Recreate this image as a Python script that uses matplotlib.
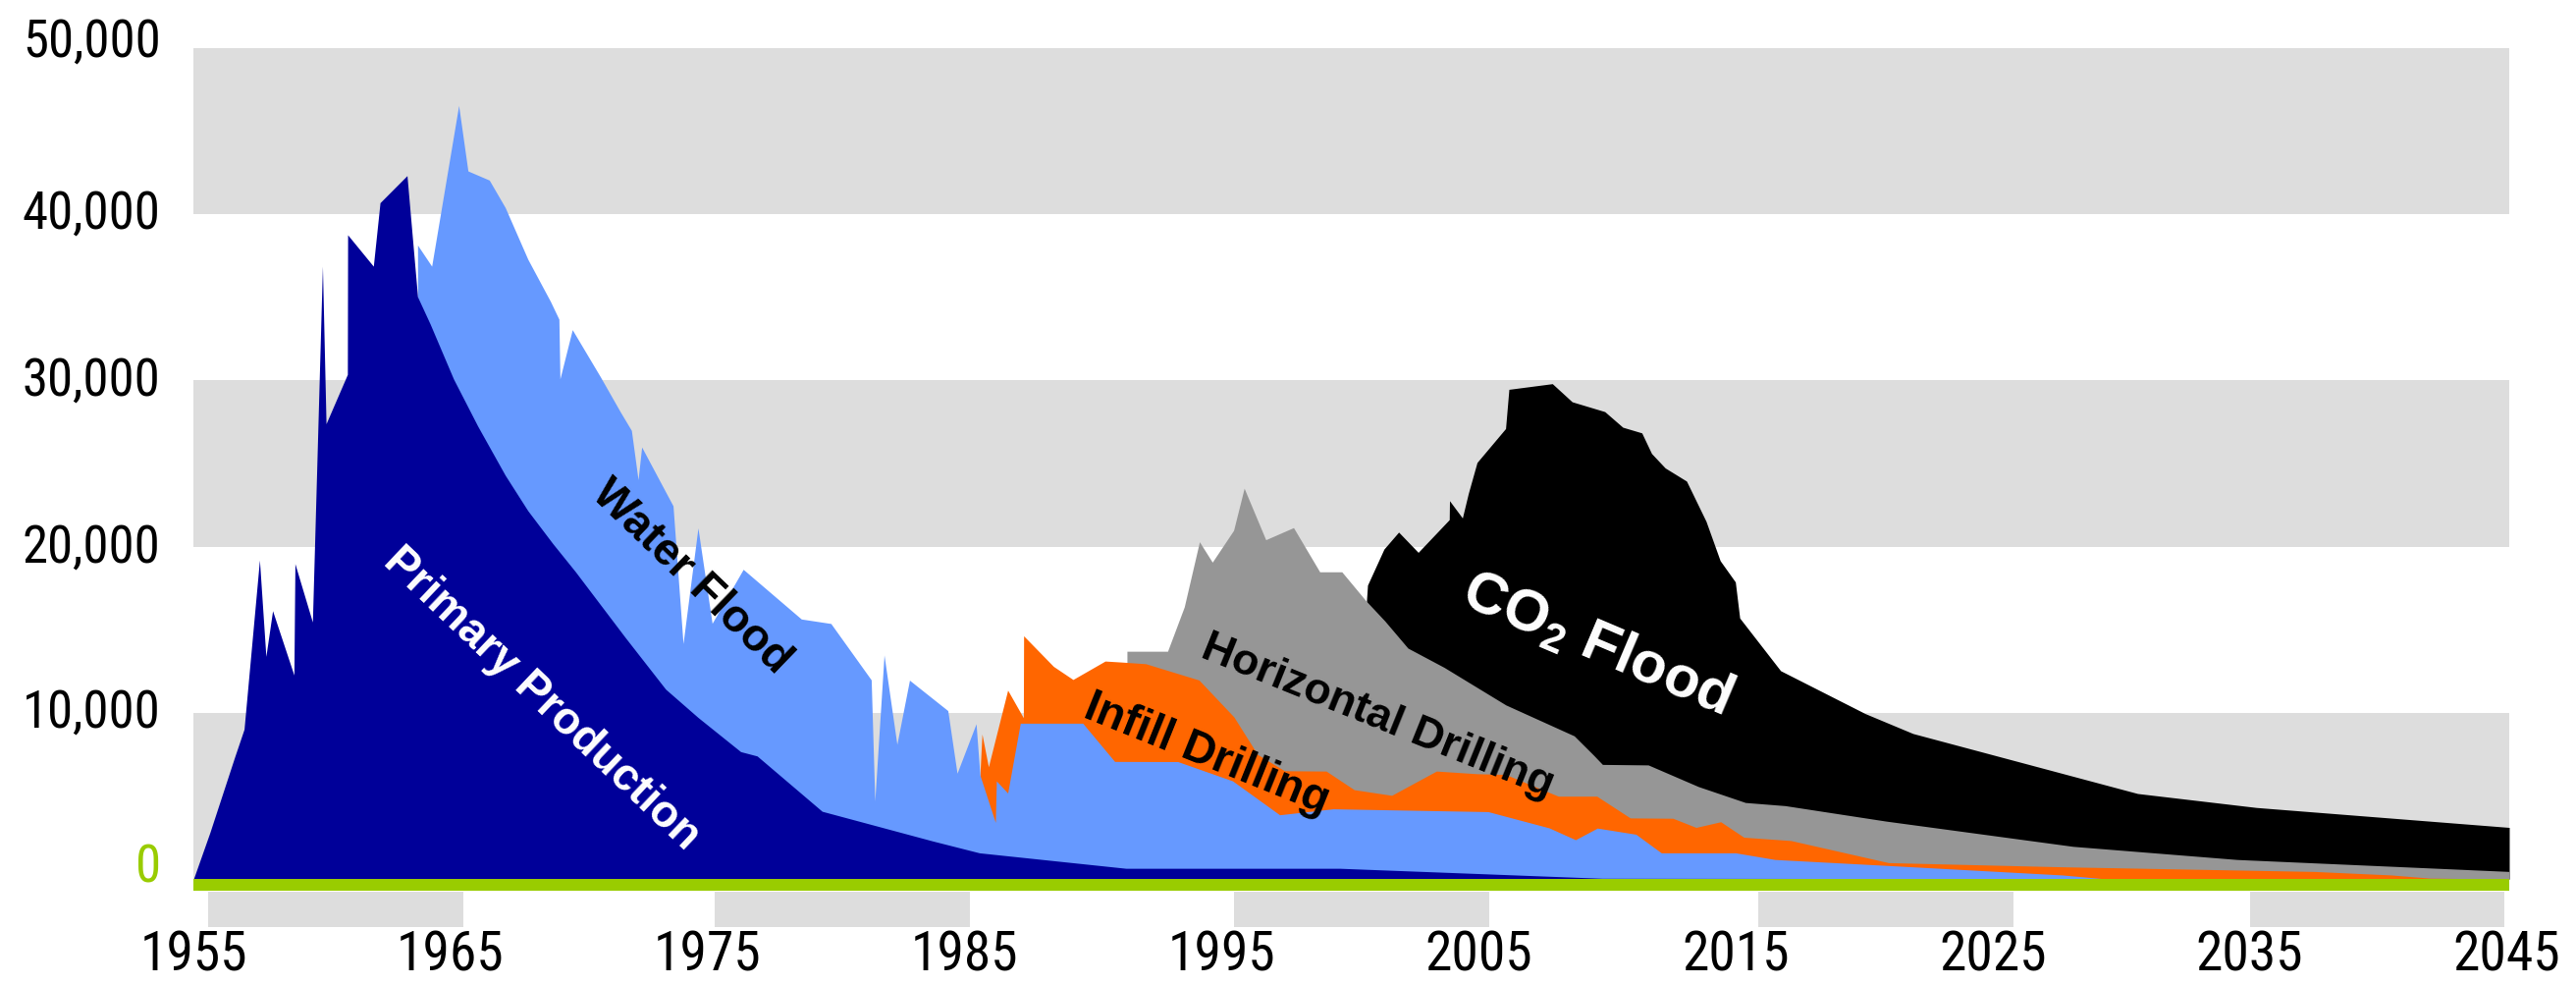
import matplotlib
matplotlib.use("Agg")
import matplotlib.pyplot as plt
from matplotlib import font_manager
from matplotlib.transforms import ScaledTranslation, blended_transform_factory
from matplotlib.patches import Rectangle

# ---------------- data (stacked totals) ----------------
primary_years = [1955.0, 1955.64, 1956.6, 1956.97, 1957.57, 1957.82, 1958.08, 1958.91, 1958.95,
                 1959.63, 1960.02, 1960.16, 1960.99, 1961.0, 1962.0, 1962.26, 1963.31, 1963.72,
                 1964.21, 1965.12, 1966.06, 1967.13, 1968.01, 1968.98, 1969.86, 1971.8, 1973.37,
                 1974.63, 1976.29, 1976.93, 1979.46, 1983.77, 1985.58, 1991.28, 1999.6, 2009.8, 2045.1]
primary_top = [0, 2800, 7330, 9020, 19200, 13400, 16150, 12280, 18980,
               15470, 36880, 27400, 30370, 38770, 36880, 40700, 42330, 35040,
               33400, 30090, 27260, 24300, 22170, 20190, 18500, 14540, 11430,
               9730, 7670, 7410, 4080, 2290, 1580, 650, 650, 50, 0]

waterflood_years = [1963.72, 1964.27, 1965.32, 1965.68, 1966.51, 1967.13, 1968.01, 1968.89, 1969.22,
                    1969.26, 1969.74, 1970.83, 1971.61, 1972.04, 1972.3, 1972.44, 1973.66, 1974.05,
                    1974.63, 1975.18, 1976.39, 1978.65, 1979.8, 1981.37, 1981.51, 1981.87, 1982.37,
                    1982.86, 1984.35, 1984.71, 1985.45, 1985.6, 1986.2, 1986.24, 1986.68, 1987.17,
                    1989.6, 1990.84, 1993.3, 1995.43, 1997.26, 1999.34, 2005.37, 2007.75, 2008.77,
                    2009.62, 2011.12, 2012.11, 2015.0, 2016.53, 2020.8, 2027.7, 2029.5, 2045.1]
waterflood_top = [38150, 36880, 46550, 42610, 42060, 40410, 37300, 34760, 33690,
                  30100, 33060, 30230, 28110, 27000, 24030, 26000, 22460, 14170,
                  21130, 15390, 18640, 15650, 15380, 11990, 4700, 13480, 8110,
                  11970, 10140, 6370, 9350, 6260, 3410, 5910, 5180, 9380,
                  9380, 7080, 7070, 5910, 3870, 4230, 4060, 3080, 2370,
                  3070, 2700, 1580, 1580, 1180, 830, 250, 0, 0]

infill_years = [1985.6, 1985.68, 1985.93, 1986.68, 1987.29, 1987.3, 1988.46, 1989.22, 1990.47,
                1991.1, 1992.05, 1994.12, 1995.48, 1996.4, 1997.45, 1999.07, 2000.16, 2001.62,
                2003.36, 2004.95, 2006.05, 2008.1, 2009.6, 2010.9, 2012.56, 2013.46, 2014.42,
                2015.32, 2017.15, 2020.95, 2027.7, 2037.5, 2040.5, 2042.0, 2045.1]
infill_top = [6260, 8730, 6760, 11370, 9710, 14640, 12800, 12010, 13120,
              13060, 12960, 11980, 9760, 7500, 6520, 6500, 5380, 5040,
              6500, 6340, 6300, 4990, 4990, 3680, 3660, 3110, 3450,
              2520, 2320, 990, 740, 460, 250, 60, 0]

horizontal_years = [1991.32, 1992.9, 1993.55, 1994.14, 1994.64, 1995.47, 1995.88, 1996.72, 1997.8,
                    1998.82, 1999.68, 2000.61, 2001.35, 2002.25, 2003.66, 2006.06, 2008.72, 2009.48,
                    2009.82, 2011.6, 2013.55, 2015.38, 2016.93, 2020.85, 2028.13, 2034.51, 2045.1]
horizontal_top = [13710, 13710, 16380, 20300, 19070, 20990, 23520, 20420, 21150,
                  18490, 18490, 16760, 15540, 13900, 12740, 10480, 8620, 7450,
                  6900, 6870, 5570, 4610, 4420, 3490, 1970, 1180, 460]

co2_years = [2000.64, 2000.68, 2001.32, 2001.89, 2002.65, 2003.86, 2003.87, 2004.37, 2004.6,
             2004.94, 2006.05, 2006.18, 2007.87, 2008.64, 2009.91, 2010.61, 2011.35, 2011.73,
             2012.26, 2013.09, 2013.85, 2014.4, 2014.99, 2015.16, 2016.75, 2020.04, 2021.9,
             2030.64, 2035.26, 2045.1]
co2_top = [16760, 17690, 19860, 20880, 19660, 21630, 22770, 21730, 23200,
           25070, 27110, 29470, 29810, 28720, 28130, 27190, 26850, 25610,
           24740, 23950, 21530, 19160, 17880, 15710, 12540, 9960, 8760,
           5150, 4310, 3110]

x_ticks = [1955, 1965, 1975, 1985, 1995, 2005, 2015, 2025, 2035, 2045]
x_tick_labels = ["1955", "1965", "1975", "1985", "1995", "2005", "2015", "2025", "2035", "2045"]
y_ticks = [0, 10000, 20000, 30000, 40000, 50000]
y_tick_labels = ["0", "10,000", "20,000", "30,000", "40,000", "50,000"]

area_labels = ["Primary Production", "Water Flood", "Infill Drilling", "Horizontal Drilling", "CO$_\\mathbf{2}$ Flood"]

# ---------------- fonts ----------------
names = {f.name for f in font_manager.fontManager.ttflist}
tick_font = "Liberation Sans"
condensed = False
for cand in ["Liberation Sans Narrow", "Arial Narrow", "Nimbus Sans Narrow", "Roboto Condensed"]:
    if cand in names:
        tick_font = cand
        condensed = True
        break
label_font = "Liberation Sans" if "Liberation Sans" in names else "DejaVu Sans"
plt.rcParams["mathtext.fontset"] = "custom"
plt.rcParams["mathtext.rm"] = label_font
plt.rcParams["mathtext.bf"] = label_font + ":bold"

x_tick_size = 40 if condensed else 37
y_tick_size = 38 if condensed else 34

# ---------------- colours ----------------
C_PRIMARY = "#000099"
C_WATER = "#6699ff"
C_INFILL = "#ff6600"
C_HORIZ = "#969696"
C_CO2 = "#000000"
C_GREEN = "#99cc00"
C_BAND = "#dddddd"

fig = plt.figure(figsize=(26.24, 10.04), dpi=100)
fig.patch.set_facecolor("white")
ax = fig.add_axes([0.07508, 0.09562, 0.8990, 0.85458])
ax.set_xlim(1955, 2045.1)
ax.set_ylim(-700, 50000)

for lo in (0, 20000, 40000):
    ax.axhspan(lo, lo + 10000, color=C_BAND, lw=0, zorder=0)

# stacked areas: draw totals from top layer down
ax.fill_between(co2_years, co2_top, 0, color=C_CO2, lw=0, zorder=2)
ax.fill_between(horizontal_years, horizontal_top, 0, color=C_HORIZ, lw=0, zorder=3)
ax.fill_between(infill_years, infill_top, 0, color=C_INFILL, lw=0, zorder=4)
ax.fill_between(waterflood_years, waterflood_top, 0, color=C_WATER, lw=0, zorder=5)
ax.fill_between(primary_years, primary_top, 0, color=C_PRIMARY, lw=0, zorder=6)

ax.axhspan(-700, 0, color=C_GREEN, lw=0, zorder=7)

# alternating boxes under the axis
trans = blended_transform_factory(ax.transData, ax.transAxes)
for x0, x1 in [(1955.57, 1965.5), (1975.3, 1985.2), (1995.5, 2005.4), (2015.9, 2025.8), (2035.0, 2044.9)]:
    ax.add_patch(Rectangle((x0, -0.0431), x1 - x0, 0.042, transform=trans,
                           color=C_BAND, lw=0, clip_on=False, zorder=0))

for s in ax.spines.values():
    s.set_visible(False)

ax.set_xticks(x_ticks)
ax.set_xticklabels(x_tick_labels, fontsize=x_tick_size, family=tick_font)
ax.set_yticks(y_ticks)
ax.set_yticklabels(y_tick_labels, fontsize=y_tick_size, family=tick_font)
ax.tick_params(axis="x", length=0, pad=28)
ax.tick_params(axis="y", length=0, pad=24)

ylabels = ax.get_yticklabels()
ylabels[0].set_color(C_GREEN)
y_shift_px = [18, 6, 5, 6, 7, 12]
for lab, dy in zip(ylabels, y_shift_px):
    lab.set_transform(lab.get_transform() + ScaledTranslation(0, dy / 100, fig.dpi_scale_trans))

# area labels
ax.text(1968.56, 10870, area_labels[0], color="white", fontsize=33, fontweight="bold",
        family=label_font, rotation=-43.5, ha="center", va="center", rotation_mode="anchor", zorder=10)
ax.text(1974.37, 18200, area_labels[1], color="black", fontsize=33, fontweight="bold",
        family=label_font, rotation=-44, ha="center", va="center", rotation_mode="anchor", zorder=10)
ax.text(1994.42, 7570, area_labels[2], color="black", fontsize=33, fontweight="bold",
        family=label_font, rotation=-22, ha="center", va="center", rotation_mode="anchor", zorder=10)
ax.text(2001.07, 9810, area_labels[3], color="black", fontsize=32, fontweight="bold",
        family=label_font, rotation=-22, ha="center", va="center", rotation_mode="anchor", zorder=10)
ax.text(2009.6, 14200, area_labels[4], color="white", fontsize=43, fontweight="bold",
        family=label_font, rotation=-23, ha="center", va="center", rotation_mode="anchor", zorder=10)

fig.savefig("out.png", dpi=100, facecolor="white")
